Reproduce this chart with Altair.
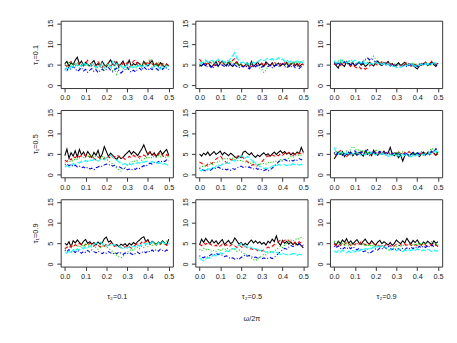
import altair as alt
import pandas as pd

# frequency grid (omega / 2pi)
freq = [round(i * 0.01, 2) for i in range(51)]

# ---------- row 1 : tau1 = 0.1 ----------
k11 = [5.2,5.8,4.6,5.5,5.0,6.1,6.8,5.2,5.9,4.8,5.6,5.1,4.7,5.5,6.0,4.9,5.3,4.6,5.8,5.0,4.5,5.4,6.2,5.1,4.8,5.7,4.4,5.2,5.9,4.7,5.0,6.1,4.6,5.3,4.9,5.6,5.2,4.5,5.8,5.1,4.7,5.4,6.0,4.8,5.3,4.6,5.5,5.0,4.4,5.2,4.8]
r11 = [5.0,4.6,5.4,5.8,4.9,5.2,4.5,5.6,5.1,4.7,5.3,6.1,5.5,4.8,5.2,4.6,5.7,5.0,4.4,5.3,4.9,5.5,4.6,5.2,5.8,4.7,5.1,4.5,5.4,4.9,5.6,4.3,5.0,5.9,6.2,4.8,5.3,4.6,5.1,5.5,4.9,6.0,5.2,4.7,5.4,5.0,4.6,5.3,4.9,5.1,4.7]
g11 = [5.3,4.8,5.6,4.5,5.1,4.7,5.4,4.2,4.9,5.3,4.6,5.0,4.4,4.8,5.2,3.9,4.5,4.9,3.8,4.6,5.0,4.3,4.7,3.6,4.1,2.7,4.4,4.8,4.0,4.6,3.7,4.3,5.0,4.5,4.1,4.8,5.2,4.4,5.5,4.9,5.8,6.4,6.0,5.3,4.7,5.5,4.9,4.4,5.1,4.6,5.0]
b11 = [4.1,3.6,4.4,3.9,4.6,4.0,3.4,3.8,4.3,3.5,3.9,3.2,3.7,4.1,3.4,3.8,3.1,3.6,4.0,3.5,3.9,4.3,3.7,3.3,3.8,4.2,3.6,3.0,3.5,3.9,4.4,3.6,3.2,3.7,3.3,3.9,4.2,3.6,4.5,4.0,3.7,4.3,3.8,4.6,4.1,3.7,4.4,3.9,4.5,4.2,3.8]
c11 = [3.6,4.3,4.0,4.8,4.4,5.3,4.7,5.0,4.5,5.6,4.9,5.2,4.6,5.4,4.8,4.3,5.0,4.6,5.5,4.2,4.9,5.1,4.5,5.8,4.7,5.3,4.4,4.9,4.1,4.6,5.0,4.3,4.7,4.2,4.8,4.5,5.1,4.4,4.9,4.6,5.2,4.8,4.3,4.7,5.0,4.4,4.0,4.6,4.2,4.8,4.5]

k12 = [5.0,4.7,5.3,4.8,5.6,4.9,4.5,5.2,5.8,4.6,5.4,5.9,5.1,4.7,5.6,5.0,4.6,5.3,5.7,4.8,5.2,4.5,4.9,5.5,4.3,5.8,4.6,5.1,5.6,4.9,5.3,4.6,5.7,5.2,4.8,5.5,4.6,5.0,5.4,4.7,5.2,4.9,5.6,4.5,5.1,5.5,4.8,5.3,4.6,5.0,5.2]
r12 = [6.4,5.6,5.1,5.4,4.9,5.7,5.2,4.8,5.5,5.9,5.3,5.0,5.6,5.2,5.8,5.4,6.1,6.5,5.3,4.9,5.1,4.6,4.3,4.8,5.2,4.5,4.9,5.3,4.7,5.0,5.4,4.6,5.1,5.5,4.8,5.2,5.7,5.0,4.6,5.3,4.9,5.5,5.1,4.7,5.4,5.8,5.0,4.6,5.2,5.6,4.9]
g12 = [5.2,4.8,5.5,5.9,5.1,5.7,5.3,6.0,5.6,5.2,5.8,5.4,5.0,5.6,5.3,5.9,5.1,5.5,5.2,4.8,5.0,4.6,5.3,4.9,4.5,5.1,4.7,4.4,4.9,4.2,3.9,3.1,3.8,4.5,5.0,4.7,5.3,4.9,5.5,5.1,4.8,5.4,5.0,5.6,5.2,5.8,5.3,5.9,5.5,5.7,6.0]
b12 = [4.6,4.9,5.2,4.7,4.4,4.8,4.1,4.5,5.0,4.7,5.3,4.9,4.6,5.1,4.7,5.4,4.8,5.0,4.6,4.3,4.8,4.5,4.9,4.4,4.0,4.6,4.9,4.5,5.1,4.7,4.4,4.8,5.2,4.6,4.9,4.3,4.7,5.0,4.5,4.8,5.3,4.6,4.2,4.9,4.5,5.0,4.3,4.7,4.1,4.6,4.9]
c12 = [5.6,5.2,5.9,6.2,5.5,5.8,6.1,5.4,5.9,6.3,5.7,6.0,5.5,6.2,5.8,6.5,7.2,7.9,6.6,6.0,5.4,5.7,5.1,5.5,4.9,5.3,5.7,5.2,5.8,6.1,6.4,6.0,6.3,6.6,6.2,6.5,5.9,6.3,6.7,6.1,6.4,5.8,6.2,5.6,5.9,5.3,5.7,6.0,5.5,5.8,5.4]

k13 = [5.3,4.8,4.2,5.6,5.0,4.6,5.8,5.2,4.9,5.5,4.7,5.1,5.7,4.9,5.3,4.6,5.0,5.6,5.2,4.7,5.4,5.9,5.1,4.8,5.5,5.2,5.8,4.9,5.3,4.6,5.0,5.5,4.8,5.2,5.6,4.9,5.3,4.7,5.1,4.4,4.0,4.7,5.3,5.0,5.6,4.8,5.2,5.7,5.0,4.6,5.4]
r13 = [5.0,5.4,5.1,4.8,5.5,5.2,5.7,5.0,4.6,5.1,4.5,4.2,4.6,4.0,4.4,3.9,4.3,4.7,5.1,5.6,5.2,4.8,5.3,5.7,5.1,5.5,4.9,5.3,4.6,5.0,4.7,5.2,4.8,5.4,5.0,5.6,5.1,4.7,5.3,4.9,5.4,5.1,4.8,5.2,5.6,5.0,5.3,5.9,5.4,5.0,5.5]
g13 = [5.6,5.2,5.9,5.5,6.1,5.7,5.3,5.8,5.4,5.9,5.5,5.1,5.6,5.3,5.8,6.0,5.6,6.2,6.6,7.1,6.3,5.8,5.4,5.9,5.3,5.6,5.0,5.4,4.9,5.2,4.8,5.1,4.7,5.0,5.4,4.9,5.3,5.0,5.5,5.1,4.8,5.3,4.9,5.2,5.6,5.1,4.7,5.2,5.5,5.0,5.3]
b13 = [5.5,5.0,5.4,4.9,5.3,5.7,5.1,5.5,5.0,5.4,4.8,5.2,5.6,5.0,5.9,6.3,6.7,6.2,6.5,6.0,5.7,5.3,5.6,5.1,5.4,4.9,5.2,4.7,5.1,4.6,5.0,4.8,5.2,4.7,5.0,4.5,4.9,5.2,4.7,5.0,4.6,5.1,4.8,5.3,4.9,5.4,5.0,5.5,5.2,4.9,5.3]
c13 = [6.0,5.4,5.8,6.2,5.6,6.0,5.5,5.9,6.3,5.7,6.1,5.5,5.8,5.3,5.7,5.2,5.5,5.1,5.4,5.0,5.6,5.2,5.5,5.0,5.4,4.9,5.3,4.8,4.5,4.7,4.3,4.6,4.4,4.8,4.5,4.9,5.2,4.7,5.0,4.6,5.1,4.8,5.2,4.9,5.3,5.0,5.4,5.1,5.6,5.2,5.0]

# ---------- row 2 : tau1 = 0.5 ----------
k21 = [4.6,6.2,4.0,5.3,4.5,5.8,4.3,6.1,4.8,5.5,4.4,5.6,4.9,4.2,5.4,4.7,5.9,4.1,5.0,6.8,5.6,4.4,5.2,4.7,4.1,3.7,4.5,3.9,4.2,4.8,5.3,5.8,5.0,5.6,5.2,4.6,5.4,6.2,7.2,5.9,4.8,5.5,4.7,5.3,4.4,5.1,5.8,4.9,5.6,6.1,4.7]
r21 = [3.5,3.2,4.0,3.6,4.4,4.1,4.8,4.3,4.7,5.0,4.5,4.9,4.2,4.6,4.0,3.6,4.3,3.9,3.5,4.1,3.7,4.4,4.0,4.6,4.3,4.8,4.4,3.9,4.2,3.7,3.9,4.5,4.1,4.7,4.3,4.0,4.5,4.2,4.8,4.4,5.1,5.6,5.2,4.7,5.3,4.9,5.5,4.6,4.2,4.9,4.5]
g21 = [2.8,3.2,3.0,3.5,3.3,3.9,3.7,4.1,4.4,4.0,4.6,4.3,4.8,4.5,4.2,4.6,4.3,4.0,4.4,4.1,3.7,3.4,3.0,2.6,2.1,1.6,1.2,0.9,1.4,1.8,2.3,2.7,3.0,3.4,3.2,3.6,3.9,3.5,3.8,4.2,3.9,4.3,4.0,4.5,4.2,4.6,4.3,4.7,4.4,4.1,4.5]
b21 = [2.4,2.6,2.2,2.5,2.0,2.3,1.9,2.1,1.7,1.9,1.5,1.8,1.4,1.6,1.2,1.7,1.9,2.2,2.0,2.4,2.6,2.3,2.5,2.1,2.3,1.9,2.0,1.7,1.4,1.6,1.2,1.4,1.1,1.5,1.3,1.7,1.5,1.9,2.2,2.0,2.5,2.8,2.6,3.0,2.8,3.2,3.0,3.4,3.2,3.6,3.3]
c21 = [1.9,2.2,1.8,2.3,2.7,2.5,3.0,2.8,3.3,3.1,3.5,3.2,3.6,3.4,3.8,3.5,3.3,3.7,3.9,3.6,4.1,4.4,4.7,4.2,3.8,3.5,3.1,2.8,2.5,2.7,2.3,2.6,2.4,2.8,2.6,3.0,2.8,3.2,3.0,3.3,3.1,2.9,3.2,2.8,3.0,2.7,2.9,2.5,2.7,2.4,2.2]

k22 = [5.0,4.5,5.2,4.8,5.5,4.6,5.1,5.6,4.9,5.3,5.7,4.8,5.4,5.0,4.6,5.2,4.8,4.3,4.0,4.5,4.2,5.4,5.7,5.2,4.8,5.3,4.6,4.2,4.8,4.4,4.9,5.3,4.7,5.1,4.5,5.0,5.5,4.9,5.4,5.8,5.2,5.6,5.0,5.4,4.8,5.3,4.9,5.5,5.1,6.6,5.4]
r22 = [3.1,2.8,2.4,2.1,2.6,3.0,2.7,3.3,3.8,4.2,4.6,3.9,3.4,2.9,3.3,3.7,3.5,4.0,4.3,4.8,4.4,4.1,3.6,3.2,2.7,2.3,2.5,1.9,2.2,2.6,3.1,3.7,4.2,4.6,4.3,4.8,4.5,4.9,4.6,5.1,4.7,5.2,4.8,5.4,5.0,4.6,5.1,4.8,5.3,5.0,5.5]
g22 = [1.8,2.1,1.9,2.3,2.1,2.5,2.4,2.9,3.2,3.0,3.4,3.6,3.9,3.7,4.1,3.8,4.0,3.7,3.5,3.3,3.5,3.2,3.0,3.3,2.9,2.7,3.0,2.6,2.4,2.7,2.5,2.8,2.6,3.0,2.8,3.2,3.0,3.4,3.2,3.6,3.5,3.9,3.7,4.1,4.4,4.2,4.6,4.5,4.9,4.7,5.1]
b22 = [1.6,1.3,1.1,0.9,1.2,1.0,1.4,1.7,1.5,1.9,1.6,1.3,1.5,1.2,1.4,1.1,1.5,1.3,1.7,1.9,2.1,1.8,2.0,1.7,1.9,1.6,1.4,1.7,1.3,1.5,1.2,1.0,1.3,0.9,1.2,1.6,2.1,2.6,3.1,3.5,3.3,3.7,3.4,3.2,3.6,3.3,3.7,3.5,3.9,3.6,4.1]
c22 = [1.2,0.9,1.3,1.0,1.5,1.3,1.8,1.6,2.1,2.4,2.2,2.6,2.5,2.9,2.7,3.1,3.5,3.3,3.8,4.2,4.6,4.3,4.0,4.4,4.1,3.6,3.2,2.8,2.4,2.0,1.8,1.5,1.7,1.4,1.8,2.0,2.3,2.1,2.5,2.3,2.6,2.4,2.2,2.5,2.3,2.7,2.4,2.6,2.3,2.5,2.2]

k23 = [3.8,4.6,5.3,4.9,5.6,4.4,5.1,4.8,5.5,4.6,5.2,4.7,5.4,5.0,4.5,5.8,4.9,5.3,4.6,5.9,5.1,4.7,5.4,5.0,5.7,4.8,5.3,6.6,5.0,4.6,5.2,4.1,4.8,3.3,4.6,5.1,4.5,4.9,5.4,4.7,5.2,4.4,5.0,5.5,4.8,5.3,4.9,5.6,5.2,4.7,5.5]
r23 = [5.2,4.6,5.4,5.8,4.7,5.1,4.4,4.9,5.3,4.8,5.6,5.1,4.7,5.3,5.7,4.9,5.2,4.6,5.4,5.0,5.5,4.8,5.2,5.7,5.3,4.9,5.4,5.0,4.6,5.3,4.9,5.5,5.1,4.7,5.4,5.0,5.6,5.2,4.8,5.1,4.6,4.9,5.3,4.7,5.0,5.4,4.8,5.6,5.1,4.5,5.0]
g23 = [5.0,5.6,5.2,4.8,5.4,5.0,5.7,5.3,6.2,6.8,6.4,5.8,6.1,5.5,5.9,5.3,5.7,5.1,5.5,4.9,6.2,5.6,5.2,4.9,5.4,5.0,5.6,5.2,4.8,5.3,4.9,5.4,5.0,5.5,4.7,5.1,4.6,5.2,4.8,5.3,4.9,5.4,5.0,4.7,5.2,5.5,5.9,6.4,5.8,5.3,5.6]
b23 = [5.4,4.8,5.6,5.1,4.7,5.3,5.0,5.5,4.9,5.2,5.8,5.3,4.8,5.6,5.0,5.4,6.1,5.6,5.1,5.5,4.9,5.3,5.7,5.2,4.8,5.4,5.0,4.6,5.2,4.9,5.5,5.0,4.7,5.3,4.9,5.2,4.6,5.0,5.4,4.8,5.3,5.0,5.5,5.1,4.8,5.4,5.0,6.0,5.5,6.3,5.7]
c23 = [6.6,5.4,5.0,5.5,5.2,4.8,5.3,5.0,4.7,5.2,4.9,5.4,5.0,4.6,5.1,4.8,5.3,4.9,5.5,5.1,4.7,5.2,4.8,5.3,4.6,5.0,4.4,4.9,4.6,5.0,4.5,4.8,4.4,4.9,4.6,5.0,4.7,4.3,4.8,4.5,4.9,4.6,5.0,4.7,5.2,4.8,5.3,4.9,5.4,5.8,5.2]

# ---------- row 3 : tau1 = 0.9 ----------
k31 = [5.0,4.6,5.4,4.1,5.6,5.1,5.8,5.2,4.7,5.5,5.9,5.0,5.4,4.8,5.2,4.6,5.3,4.8,5.1,6.1,6.5,5.3,5.6,4.9,4.4,4.7,4.2,4.8,4.5,4.9,4.3,5.0,4.6,5.2,4.8,5.4,5.8,6.3,6.6,5.4,5.9,4.8,5.5,5.1,4.7,5.3,4.9,5.6,5.0,4.6,6.0]
r31 = [3.6,4.1,3.8,4.5,4.0,4.7,4.3,5.0,4.6,4.2,4.8,4.4,5.1,4.7,4.3,4.9,4.5,4.1,4.6,4.3,4.8,4.4,5.0,4.6,4.2,4.7,4.3,3.9,4.4,4.0,4.5,4.2,3.8,4.3,4.6,5.0,4.7,5.3,4.9,5.6,5.2,4.8,5.4,5.0,4.6,5.1,4.7,5.3,4.9,4.5,4.8]
g31 = [3.8,4.2,3.9,4.5,4.1,4.8,4.4,4.0,4.6,4.3,4.9,4.5,4.2,4.7,4.4,4.0,3.6,3.9,4.3,4.6,4.2,3.8,3.4,3.0,2.5,2.1,1.8,1.5,1.9,2.3,2.8,3.2,3.6,3.3,3.8,4.1,3.7,4.3,4.0,4.6,4.2,4.8,4.5,5.0,4.6,5.2,4.8,5.3,4.9,5.5,5.1]
b31 = [3.4,3.0,3.5,2.9,3.2,2.8,3.3,3.0,2.6,3.1,2.8,3.3,2.9,3.4,3.0,2.7,3.1,2.8,2.5,2.9,2.6,3.0,2.7,2.4,2.8,2.5,2.9,2.6,2.3,2.7,2.4,2.8,2.5,2.2,2.6,2.9,2.5,2.8,3.1,2.7,3.2,2.9,3.4,3.0,3.5,3.1,3.6,3.3,3.0,3.4,3.2]
c31 = [3.0,2.6,3.2,2.8,3.5,3.1,3.7,3.4,4.0,3.7,4.2,3.9,4.4,4.1,4.7,5.1,4.8,5.3,4.9,4.6,4.3,4.7,4.4,4.8,4.5,4.1,4.4,4.0,3.7,4.1,3.8,4.2,3.9,4.4,4.1,4.6,4.3,4.8,5.0,4.7,5.2,4.9,5.4,5.0,4.7,5.2,4.8,5.3,4.9,5.1,4.8]

k32 = [4.6,6.0,5.2,6.2,5.5,4.9,5.8,5.1,5.6,4.8,5.4,5.9,4.7,5.2,5.7,4.9,5.3,6.3,5.6,4.8,5.2,4.5,5.0,4.6,5.3,5.8,5.1,5.6,5.0,5.4,4.8,5.2,4.6,5.5,5.1,6.0,5.4,6.8,5.2,4.5,5.7,5.0,5.5,4.8,5.3,4.7,5.2,4.6,5.0,4.4,3.9]
r32 = [4.8,4.4,5.1,4.7,5.3,4.9,4.5,4.2,4.6,4.0,4.4,4.8,4.3,4.7,4.1,4.5,4.9,4.4,4.0,4.6,4.2,3.8,4.3,3.9,3.5,3.8,3.3,3.6,3.2,3.5,3.1,3.4,3.7,4.1,3.8,4.3,4.7,5.0,5.4,5.8,5.3,5.7,6.1,5.6,5.2,4.8,5.3,4.9,5.4,5.0,4.6]
g32 = [3.6,3.2,3.8,3.4,3.7,3.3,3.0,3.4,3.1,3.5,3.2,3.7,3.4,3.9,3.6,3.3,3.8,3.5,3.1,3.4,3.0,2.7,2.4,2.1,1.8,1.4,1.1,0.8,1.3,1.7,2.0,2.4,2.2,2.7,3.0,2.8,3.2,3.5,3.9,4.3,4.0,4.6,5.0,5.4,5.8,5.5,5.9,6.2,6.0,6.4,6.1]
b32 = [2.0,1.7,1.5,1.9,1.6,2.1,2.4,2.2,2.6,2.3,2.5,2.1,1.8,2.0,1.6,1.3,1.5,1.2,1.4,1.1,1.6,1.9,2.2,1.9,2.1,1.8,1.5,1.7,1.4,1.6,1.3,1.5,1.2,1.4,1.6,1.3,1.7,2.1,2.6,3.0,3.4,3.8,3.6,4.1,4.5,4.2,4.7,4.4,4.9,4.6,4.3]
c32 = [1.5,1.0,0.7,1.2,1.6,1.4,1.9,2.2,2.0,2.4,2.7,2.5,2.9,3.2,3.0,3.5,3.8,3.6,4.1,4.6,5.0,4.6,4.3,4.0,4.3,3.9,3.6,3.9,3.5,3.2,3.5,3.1,2.8,3.1,2.7,3.0,2.6,2.9,2.5,2.3,2.6,2.4,2.2,2.5,2.3,2.6,2.4,2.1,2.4,2.2,2.5]

k33 = [5.2,4.6,5.5,4.9,5.8,5.3,6.1,5.0,5.6,4.8,5.4,5.9,5.1,4.7,5.5,6.0,5.2,4.8,5.6,5.0,4.6,5.3,5.7,4.9,5.4,5.0,4.6,5.2,4.5,5.0,5.8,5.3,4.9,5.6,5.1,6.2,5.4,4.9,5.7,5.2,5.8,5.0,4.6,5.3,4.9,5.5,5.1,4.7,5.6,5.0,5.4]
r33 = [4.8,4.3,4.9,4.5,5.1,4.7,5.3,4.9,4.5,5.0,4.6,5.2,4.8,5.4,5.0,4.6,5.1,4.7,5.3,4.9,4.4,4.8,4.2,4.6,4.3,4.7,4.1,4.5,4.0,4.4,4.8,4.3,4.7,4.4,4.9,4.5,5.0,4.6,4.2,4.7,4.4,4.9,4.5,5.0,4.6,4.3,4.8,4.4,4.9,4.6,4.2]
g33 = [5.6,4.9,5.3,4.6,5.0,4.5,4.9,4.4,4.8,5.2,4.7,5.1,4.6,4.9,4.4,4.8,4.3,4.7,4.2,4.6,4.1,4.5,4.0,4.4,3.9,3.7,3.4,3.2,3.6,3.9,4.2,4.5,4.1,4.6,4.3,4.8,4.4,4.9,4.5,5.0,4.6,5.1,4.7,5.2,4.8,5.3,4.9,5.4,5.0,4.7,5.1]
b33 = [4.3,3.9,4.4,3.8,3.5,4.0,3.6,4.1,3.7,4.2,3.8,3.4,3.8,3.3,3.0,3.2,2.8,2.6,2.9,3.3,3.7,3.4,3.9,3.6,4.2,3.8,4.3,3.9,3.5,3.8,3.4,3.7,3.3,3.8,3.5,3.9,3.6,4.1,3.7,4.2,3.8,4.3,3.9,4.4,4.0,4.5,4.1,4.6,4.2,4.7,4.3]
c33 = [3.2,2.8,3.3,2.9,3.4,3.0,2.7,3.1,2.8,3.3,2.9,3.4,3.1,3.6,3.3,3.8,3.5,4.0,3.7,4.2,3.9,4.4,4.1,4.6,4.2,4.0,3.7,3.4,3.8,3.5,3.2,3.6,3.3,3.0,3.4,3.1,3.5,3.2,3.6,3.3,3.7,3.4,3.1,3.5,3.2,3.6,3.3,3.0,3.4,3.1,3.3]

panels = [
    [(k11, r11, g11, b11, c11), (k12, r12, g12, b12, c12), (k13, r13, g13, b13, c13)],
    [(k21, r21, g21, b21, c21), (k22, r22, g22, b22, c22), (k23, r23, g23, b23, c23)],
    [(k31, r31, g31, b31, c31), (k32, r32, g32, b32, c32), (k33, r33, g33, b33, c33)],
]

row_titles = ["τ₁=0.1", "τ₁=0.5", "τ₁=0.9"]
col_titles = ["τ₂=0.1", "τ₂=0.5", "τ₂=0.9"]
x_label = "ω/2π"
x_ticks = [0.0, 0.1, 0.2, 0.3, 0.4, 0.5]
y_ticks = [0, 5, 10, 15]

series_names = ["s1", "s2", "s3", "s4", "s5"]
colors = ["#000000", "#FF0000", "#00CD00", "#0000FF", "#00FFFF"]
dashes = [[1, 0], [4, 3], [1, 2], [1, 2, 4, 2], [6, 2]]

FONT = "Liberation Sans"


def make_panel(series, i, j):
    rows = []
    for name, vals in zip(series_names, series):
        for x, y in zip(freq, vals):
            rows.append({"x": x, "y": y, "s": name})
    df = pd.DataFrame(rows)

    if i == 2:
        xtitle = [col_titles[j], x_label] if j == 1 else col_titles[j]
        xaxis = alt.Axis(values=x_ticks, format=".1f", title=xtitle,
                         titlePadding=13, titleLineHeight=23, titleBaseline="top")
    else:
        xaxis = alt.Axis(values=x_ticks, format=".1f", title=None)
    if j == 0:
        yaxis = alt.Axis(values=y_ticks, title=row_titles[i], labelAngle=270,
                         labelAlign="center", labelBaseline="bottom", titlePadding=8)
    else:
        yaxis = alt.Axis(values=y_ticks, title=None, labelAngle=270,
                         labelAlign="center", labelBaseline="bottom")

    return alt.Chart(df).mark_line(strokeWidth=1.1, clip=True).encode(
        x=alt.X("x:Q", scale=alt.Scale(domain=[-0.02, 0.52], nice=False, zero=False), axis=xaxis),
        y=alt.Y("y:Q", scale=alt.Scale(domain=[-0.6, 15.6], nice=False, zero=False), axis=yaxis),
        color=alt.Color("s:N", scale=alt.Scale(domain=series_names, range=colors), legend=None),
        strokeDash=alt.StrokeDash("s:N", scale=alt.Scale(domain=series_names, range=dashes), legend=None),
        order=alt.Order("x:Q"),
    ).properties(width=115, height=69)


charts = [make_panel(panels[i][j], i, j) for i in range(3) for j in range(3)]

chart = alt.concat(*charts, columns=3, spacing={"row": 22.5, "column": 23}, bounds="flush").properties(
    padding={"left": 23, "top": 6, "right": 5, "bottom": 5}
).configure_view(
    stroke="#333333", strokeWidth=1
).configure_axis(
    domain=False, grid=False, tickColor="#333333", tickSize=4, tickWidth=1,
    labelFont=FONT, labelFontSize=7.5, labelColor="#222222", labelPadding=2,
    titleFont=FONT, titleFontSize=7.5, titleFontWeight="normal", titleColor="#222222",
)

chart.save("out.html", embed_options={"renderer": "svg", "actions": False})
